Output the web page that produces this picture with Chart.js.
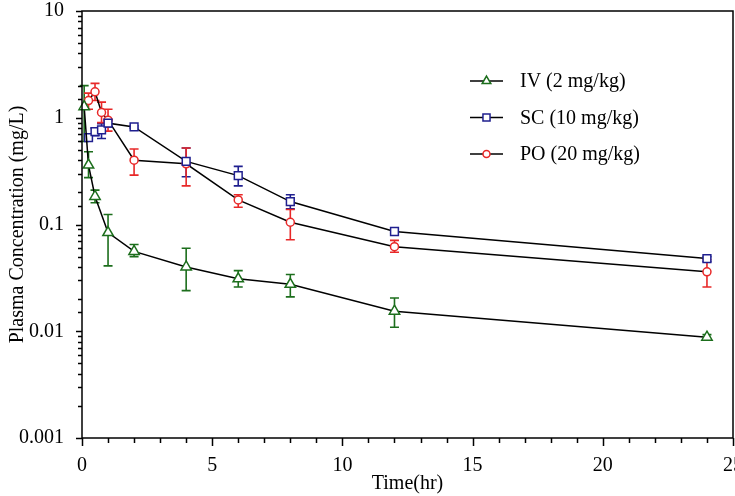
<!DOCTYPE html>
<html><head><meta charset="utf-8">
<script src="https://cdn.jsdelivr.net/npm/chart.js@4/dist/chart.umd.min.js"></script>
<style>html,body{margin:0;padding:0;background:#fff}#wrap{width:735px;height:496px}</style>
</head><body><div id="wrap"><canvas id="c" width="735" height="496"></canvas></div>
<script>
// ---- data ----
const ivTime  = [0.083, 0.25, 0.5, 1, 2, 4, 6, 8, 12, 24];
const ivMean  = [1.27, 0.36, 0.183, 0.084, 0.056, 0.040, 0.031, 0.0275, 0.0154, 0.0088];
const ivUpper = [2.0, 0.48, 0.21, 0.124, 0.065, 0.060, 0.037, 0.034, 0.0205, 0.0093];
const ivLower = [0.6, 0.275, 0.16, 0.041, 0.050, 0.024, 0.026, 0.021, 0.0109, 0.0083];

const scTime  = [0.25, 0.5, 0.75, 1, 2, 4, 6, 8, 12, 24];
const scMean  = [0.65, 0.74, 0.77, 0.89, 0.82, 0.39, 0.287, 0.164, 0.086, 0.048];
const scUpper = [0.69, 0.80, 0.88, 0.96, 0.84, 0.52, 0.35, 0.19, 0.089, 0.050];
const scLower = [0.61, 0.68, 0.64, 0.82, 0.80, 0.28, 0.23, 0.14, 0.083, 0.045];

const poTime  = [0.25, 0.5, 0.75, 1, 2, 4, 6, 8, 12, 24];
const poMean  = [1.45, 1.75, 1.12, 0.95, 0.40, 0.37, 0.17, 0.105, 0.062, 0.036];
const poUpper = [1.7, 2.1, 1.4, 1.2, 0.51, 0.52, 0.19, 0.138, 0.071, 0.047];
const poLower = [1.2, 1.45, 0.9, 0.75, 0.29, 0.23, 0.145, 0.072, 0.055, 0.026];

const seriesLabels = ['IV (2 mg/kg)', 'SC (10 mg/kg)', 'PO (20 mg/kg)'];
const xTickLabels = [0, 5, 10, 15, 20, 25];
const yTickLabels = [0.001, 0.01, 0.1, 1, 10];

const FONT = "'Liberation Serif', 'Times New Roman', serif";
const GREEN = '#1c6e1c', BLUE = '#1f1f8f', RED = '#e82828';

function pts(t, m) { return t.map((x, i) => ({x: x, y: m[i]})); }

const errs = [
  {up: ivUpper, lo: ivLower, t: ivTime, color: GREEN},
  {up: scUpper, lo: scLower, t: scTime, color: BLUE},
  {up: poUpper, lo: poLower, t: poTime, color: RED}
];

const errorBars = {
  id: 'errorBars',
  beforeDatasetsDraw(chart) {
    const ctx = chart.ctx, xs = chart.scales.x, ys = chart.scales.y;
    ctx.save();
    ctx.lineWidth = 1.6;
    errs.forEach(e => {
      ctx.strokeStyle = e.color;
      e.t.forEach((t, i) => {
        const x = xs.getPixelForValue(t);
        const yu = ys.getPixelForValue(e.up[i]);
        const yl = ys.getPixelForValue(e.lo[i]);
        ctx.beginPath();
        ctx.moveTo(x, yu); ctx.lineTo(x, yl);
        ctx.moveTo(x - 4.5, yu); ctx.lineTo(x + 4.5, yu);
        ctx.moveTo(x - 4.5, yl); ctx.lineTo(x + 4.5, yl);
        ctx.stroke();
      });
    });
    ctx.restore();
  }
};

const frame = {
  id: 'frame',
  afterDraw(chart) {
    const ctx = chart.ctx, a = chart.chartArea, xs = chart.scales.x, ys = chart.scales.y;
    ctx.save();
    ctx.strokeStyle = '#000';
    ctx.lineWidth = 1.5;
    ctx.strokeRect(a.left, a.top, a.right - a.left, a.bottom - a.top);
    ctx.beginPath();
    ys.ticks.forEach(tk => {
      const v = tk.value;
      if (v < ys.min || v > ys.max) return;
      const lg = Math.log10(v);
      const major = Math.abs(lg - Math.round(lg)) < 1e-6;
      const y = Math.round(ys.getPixelForValue(v)) + 0.5;
      ctx.moveTo(a.left, y); ctx.lineTo(a.left - (major ? 6 : 4), y);
    });
    xs.ticks.forEach(tk => {
      const v = tk.value;
      const major = v % 5 === 0;
      const x = Math.round(xs.getPixelForValue(v)) + 0.5;
      ctx.moveTo(x, a.bottom); ctx.lineTo(x, a.bottom + (major ? 8 : 5));
    });
    ctx.stroke();

    const items = [
      {label: seriesLabels[0], style: 'triangle', color: GREEN, r: 5},
      {label: seriesLabels[1], style: 'rect', color: BLUE, r: 5},
      {label: seriesLabels[2], style: 'circle', color: RED, r: 3.5}
    ];
    ctx.font = '20px ' + FONT;
    ctx.textBaseline = 'middle';
    items.forEach((it, i) => {
      const y = 81 + i * 36.5;
      ctx.strokeStyle = '#000';
      ctx.lineWidth = 1.5;
      ctx.beginPath(); ctx.moveTo(470, y); ctx.lineTo(503, y); ctx.stroke();
      ctx.fillStyle = '#fff';
      ctx.strokeStyle = it.color;
      Chart.helpers.drawPoint(ctx, {pointStyle: it.style, radius: it.r, borderWidth: 1.5, rotation: 0}, 486.5, y);
      ctx.fillStyle = '#000';
      ctx.fillText(it.label, 520, y + 1);
    });
    ctx.restore();
  }
};

function ds(label, t, m, color, style, r) {
  return {
    label: label, data: pts(t, m),
    borderColor: '#000', borderWidth: 1.5,
    pointStyle: style, pointRadius: r, pointBorderWidth: 1.5,
    pointBorderColor: color, pointBackgroundColor: '#fff',
    tension: 0, fill: false, clip: false
  };
}

new Chart(document.getElementById('c'), {
  type: 'line',
  data: {
    datasets: [
      ds(seriesLabels[0], ivTime, ivMean, GREEN, 'triangle', 6),
      ds(seriesLabels[1], scTime, scMean, BLUE, 'rect', 5.5),
      ds(seriesLabels[2], poTime, poMean, RED, 'circle', 4)
    ]
  },
  options: {
    responsive: false, animation: false, devicePixelRatio: 1,
    layout: {autoPadding: false, padding: {top: 11, right: 2, left: 0, bottom: 0}},
    plugins: {legend: {display: false}, tooltip: {enabled: false}},
    scales: {
      x: {
        type: 'linear', min: 0, max: 25,
        grid: {display: false}, border: {display: false},
        ticks: {
          stepSize: 1, autoSkip: false, maxRotation: 0, padding: 8,
          color: '#000', font: {family: FONT, size: 20},
          callback: v => xTickLabels.includes(v) ? String(v) : ''
        },
        title: {display: true, text: 'Time(hr)', color: '#000', font: {family: FONT, size: 20}, padding: {top: 0, bottom: 0}},
        afterFit: s => { s.height = 58; s.paddingLeft = 0; s.paddingRight = 0; }
      },
      y: {
        type: 'logarithmic', min: 0.001, max: 10,
        grid: {display: false}, border: {display: false},
        ticks: {
          autoSkip: false, padding: 10, color: '#000', font: {family: FONT, size: 20},
          callback: v => yTickLabels.includes(v) ? String(v) : ''
        },
        title: {display: true, text: 'Plasma Concentration (mg/L)', color: '#000', font: {family: FONT, size: 20}, padding: {top: 6, bottom: 0}},
        afterFit: s => { s.width = 82; s.paddingTop = 0; s.paddingBottom = 0; }
      }
    }
  },
  plugins: [errorBars, frame]
});
</script>
</body></html>
